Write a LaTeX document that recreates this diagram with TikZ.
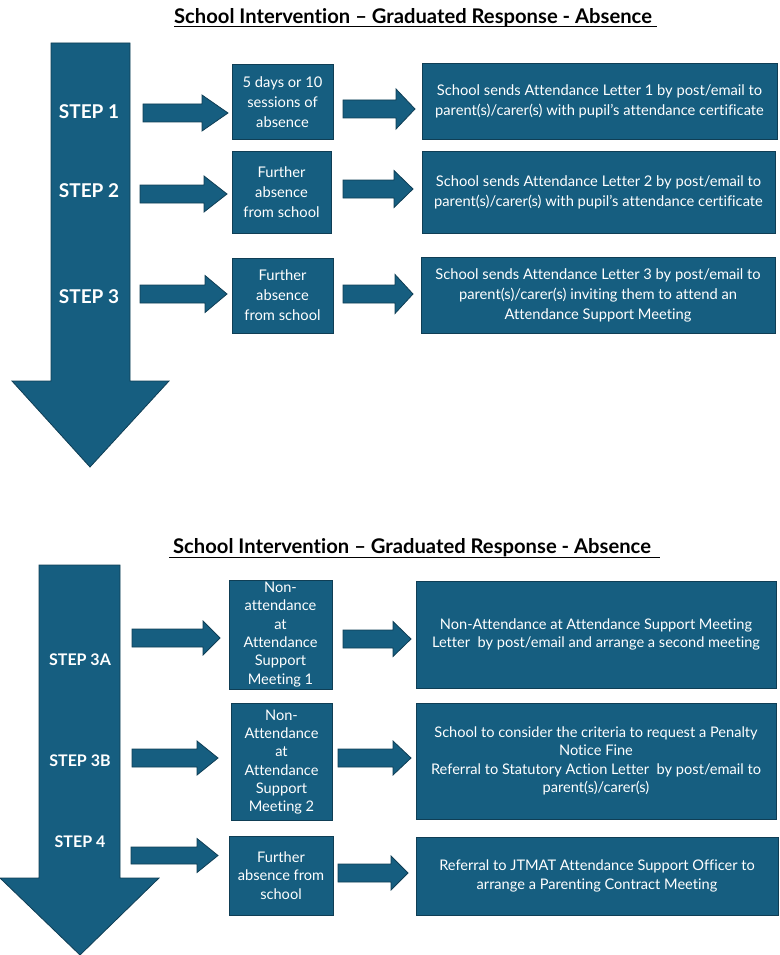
\documentclass[tikz,border=0pt]{standalone}
\usepackage{fontspec}
\setmainfont{Lato}[Ligatures=NoCommon]
\definecolor{fillc}{HTML}{165E80}
\definecolor{bdr}{HTML}{0F3E55}
\begin{document}
\begin{tikzpicture}[x=1pt,y=-1pt,
  box/.style={draw=bdr, fill=fillc, line width=1pt, text=white, align=center, inner sep=0pt},
  topfont/.style={font=\fontsize{14.7}{20}\selectfont},
  botfont/.style={font=\fontsize{14.6}{18.3}\selectfont},
  steplbl/.style={text=white, font=\bfseries\fontsize{19}{23}\selectfont},
  steplblb/.style={text=white, font=\bfseries\fontsize{16}{20}\selectfont},
  titlelbl/.style={font=\bfseries\fontsize{20.2}{24}\selectfont},
  arr/.style={draw=bdr, fill=fillc, line width=0.8pt, line join=miter},
  uline/.style={line width=1pt, black}]
\useasboundingbox (0,0) rectangle (779,955);
\newcommand{\blockarr}[6]{%
  \draw[arr] (#1,#4-#5) -- (#2,#4-#5) -- (#2,#4-#6) -- (#3,#4) -- (#2,#4+#6) -- (#2,#4+#5) -- (#1,#4+#5) -- cycle;}

% ---------- top section ----------
\node[titlelbl] (t1) at (413,17.5) {School Intervention – Graduated Response - Absence};
\coordinate (t1a) at (174,27); \coordinate (t1b) at (657,27);
\draw[uline] (t1a) -- (t1b);

\draw[arr] (51,43) -- (130,43) -- (130,381) -- (169,381) -- (90,467) -- (12,381) -- (51,381) -- cycle;
\node[steplbl] (st1) at (89,112) {STEP 1};
\node[steplbl] (st2) at (89,191) {STEP 2};
\node[steplbl] (st3) at (89,297) {STEP 3};

\node[box, topfont, minimum width=101pt, minimum height=74pt] (s1) at (282.5,102) {5 days or 10\\sessions of\\absence};
\node[box, topfont, minimum width=99pt, minimum height=82pt] (s2) at (281.5,192) {Further\\absence\\from school};
\node[box, topfont, minimum width=101pt, minimum height=75pt] (s3) at (282.5,295.5) {Further\\absence\\from school};

\node[box, topfont, minimum width=355pt, minimum height=75pt] (r1) at (599.5,101.5) {School sends Attendance Letter 1 by post/email to\\parent(s)/carer(s) with pupil’s attendance certificate};
\node[box, topfont, minimum width=353pt, minimum height=82pt] (r2) at (598.5,192) {School sends Attendance Letter 2 by post/email to\\parent(s)/carer(s) with pupil’s attendance certificate};
\node[box, topfont, minimum width=354pt, minimum height=76pt] (r3) at (598,295) {School sends Attendance Letter 3 by post/email to\\parent(s)/carer(s) inviting them to attend an\\Attendance Support Meeting};

\blockarr{143}{202}{228}{113}{9}{18}
\blockarr{140}{204}{227}{194}{9}{18}
\blockarr{140}{205}{227}{294}{9}{18.5}
\blockarr{343}{396}{415}{109}{9}{20}
\blockarr{343}{394}{413}{189}{9}{18.5}
\blockarr{343}{395}{413}{294}{9}{19.5}

% ---------- bottom section ----------
\node[titlelbl] (t2) at (412,548) {School Intervention – Graduated Response - Absence};
\coordinate (t2a) at (169,557); \coordinate (t2b) at (660,557);
\draw[uline] (t2a) -- (t2b);

\draw[arr] (39,565) -- (120,565) -- (120,878) -- (159,878) -- (80,955) -- (0,878) -- (39,878) -- cycle;
\node[steplblb] (st3a) at (80,660) {STEP 3A};
\node[steplblb] (st3b) at (80,761) {STEP 3B};
\node[steplblb] (st4) at (80,842) {STEP 4};

\node[box, botfont, minimum width=103pt, minimum height=109pt] (b1) at (280.5,634.5) {Non-\\attendance\\at\\Attendance\\Support\\Meeting 1};
\node[box, botfont, minimum width=101pt, minimum height=117pt] (b2) at (281.5,762) {Non-\\Attendance\\at\\Attendance\\Support\\Meeting 2};
\node[box, botfont, minimum width=104pt, minimum height=79pt] (b3) at (281,875.5) {Further\\absence from\\school};

\node[box, botfont, minimum width=360pt, minimum height=107pt] (c1) at (596,634.5) {Non-Attendance at Attendance Support Meeting\\Letter\ \ by post/email and arrange a second meeting};
\node[box, botfont, minimum width=360pt, minimum height=116pt] (c2) at (596,761) {School to consider the criteria to request a Penalty\\Notice Fine\\Referral to Statutory Action Letter\ \ by post/email to\\parent(s)/carer(s)};
\node[box, botfont, minimum width=362pt, minimum height=78pt] (c3) at (597,876) {Referral to JTMAT Attendance Support Officer to\\arrange a Parenting Contract Meeting};

\blockarr{132}{203}{220}{638}{9}{17}
\blockarr{132}{197}{218}{758}{9}{17}
\blockarr{131}{197}{218}{855.5}{8.5}{17}
\blockarr{343}{393}{411}{639}{9}{17.5}
\blockarr{338}{393}{411}{758}{9}{17}
\blockarr{338}{391}{408}{873}{9}{17}
\end{tikzpicture}
\end{document}
